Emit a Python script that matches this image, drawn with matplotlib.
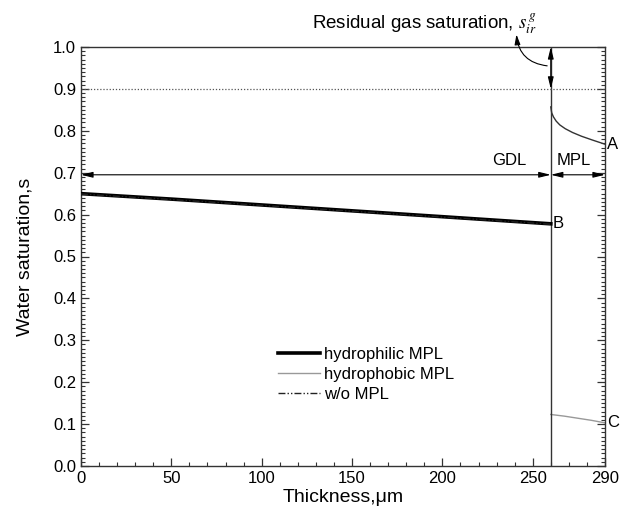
import numpy as np
import matplotlib
matplotlib.use('Agg')
from matplotlib import pyplot as plt
from matplotlib.ticker import MultipleLocator, FormatStrFormatter

plt.rcParams['font.family'] = ['Liberation Sans', 'DejaVu Sans']
plt.rcParams['mathtext.fontset'] = 'stix'

# GDL region (0 - 260 um)
x_gdl = [0, 50, 100, 150, 200, 260]
s_hydrophilic_gdl = [0.650, 0.637, 0.623, 0.609, 0.595, 0.578]
s_hydrophobic_gdl = [0.650, 0.637, 0.623, 0.609, 0.595, 0.578]
s_nompl_gdl = [0.649, 0.636, 0.622, 0.608, 0.594, 0.577]

# MPL region (260 - 290 um)
x_mpl_a = [260, 260.5, 261.5, 263, 265, 268, 272, 277, 283, 290]
s_hydrophilic_mpl = [0.857, 0.843, 0.833, 0.823, 0.814, 0.805, 0.796, 0.787, 0.778, 0.768]
x_mpl_c = [260, 267.5, 275, 282.5, 290]
s_hydrophobic_mpl = [0.123, 0.119, 0.114, 0.109, 0.103]

x_interface = 260
x_end = 290
s_residual = 0.9

fig = plt.figure(figsize = (6.2, 5.13), dpi = 100)
ax = fig.add_axes([0.1306, 0.0916, 0.8452, 0.8168])

ax.plot(x_gdl, s_hydrophilic_gdl, color = 'k', lw = 2.6, label = 'hydrophilic MPL', zorder = 4)
ax.plot(x_gdl, s_hydrophobic_gdl, color = '#999999', lw = 1.0, label = 'hydrophobic MPL', zorder = 3)
ax.plot(x_gdl, s_nompl_gdl, color = '#222222', lw = 1.0, ls = (0, (5, 1.5, 1, 1.5, 1, 1.5)), label = 'w/o MPL', zorder = 5)

ax.plot(x_mpl_a, s_hydrophilic_mpl, color = '#333333', lw = 1.0)
ax.plot(x_mpl_c, s_hydrophobic_mpl, color = '#999999', lw = 1.0)

# GDL/MPL interface and residual gas line
ax.axvline(x_interface, color = '#333333', lw = 1.0)
ax.axhline(s_residual, color = '#555555', lw = 0.9, ls = (0, (1, 1.5)))

arrow_kw = dict(arrowstyle = '<|-|>,head_length=0.7,head_width=0.17', color = 'k', lw = 0.8,
                shrinkA = 0, shrinkB = 0)
ax.annotate('', xy = (0, 0.695), xytext = (x_interface, 0.695), arrowprops = arrow_kw)
ax.annotate('', xy = (x_interface, 0.695), xytext = (x_end, 0.695), arrowprops = arrow_kw)
ax.annotate('', xy = (x_interface, 1.0), xytext = (x_interface, s_residual), arrowprops = arrow_kw)
ax.text(237, 0.712, 'GDL', ha = 'center', va = 'bottom', fontsize = 12)
ax.text(272.5, 0.712, 'MPL', ha = 'center', va = 'bottom', fontsize = 12)

# residual gas saturation label with curved pointer
ax.text(252, 1.043, 'Residual gas saturation, $s_{ir}^{\\,g}$', ha = 'right', va = 'baseline',
        fontsize = 13.5, clip_on = False)
ax.annotate('', xy = (241, 1.03), xytext = (258, 0.955), annotation_clip = False,
            arrowprops = dict(arrowstyle = '-|>,head_length=0.6,head_width=0.17', color = 'k', lw = 0.8,
                              shrinkA = 0, shrinkB = 0, connectionstyle = 'arc3,rad=-0.4'))

ax.text(291, 0.767, 'A', ha = 'left', va = 'center', fontsize = 12)
ax.text(261, 0.578, 'B', ha = 'left', va = 'center', fontsize = 12)
ax.text(291, 0.103, 'C', ha = 'left', va = 'center', fontsize = 12)

ax.set_xlim(0, x_end)
ax.set_ylim(0, 1.0)
ax.set_xticks([0, 50, 100, 150, 200, 250, 290])
ax.xaxis.set_minor_locator(MultipleLocator(10))
ax.yaxis.set_major_locator(MultipleLocator(0.1))
ax.yaxis.set_minor_locator(MultipleLocator(0.01))
ax.yaxis.set_major_formatter(FormatStrFormatter('%.1f'))
ax.tick_params(which = 'both', direction = 'in', top = False, right = True, color = '#333333', labelsize = 12)
ax.tick_params(which = 'major', length = 6, width = 0.9)
ax.tick_params(which = 'minor', length = 3, width = 0.8)
for sp in ax.spines.values():
    sp.set_color('#333333')
    sp.set_linewidth(1.0)

ax.set_xlabel('Thickness,\u03bcm', fontsize = 14, labelpad = 2)
ax.set_ylabel('Water saturation,s', fontsize = 14, labelpad = 14)

ax.legend(loc = 'upper left', bbox_to_anchor = (0.36, 0.305), frameon = False, fontsize = 12,
          handlelength = 2.5, handletextpad = 0.25, labelspacing = 0.3, borderpad = 0)

fig.savefig('out.png', dpi = 100)
